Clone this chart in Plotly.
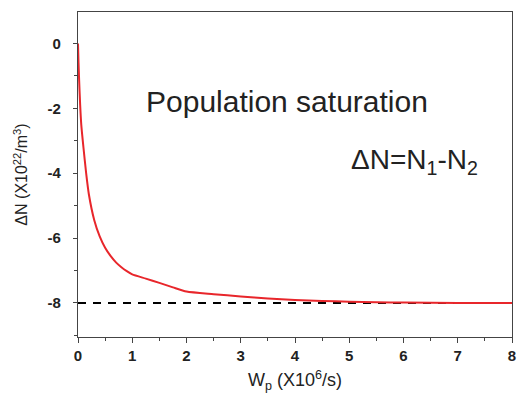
import plotly.graph_objects as go

# Data
wp = [0, 0.01, 0.02, 0.04, 0.06, 0.1, 0.15, 0.2, 0.3, 0.4, 0.5, 0.6, 0.7, 0.8, 0.9, 1.0,
      1.25, 1.5, 1.75, 2.0, 2.5, 3.0, 3.5, 4.0, 4.5, 5.0, 5.5, 6.0, 7.0, 8.0]
dn = [0, -0.6, -1.1, -1.9, -2.5, -3.2, -4.0, -4.65, -5.45, -5.95, -6.3, -6.55, -6.75, -6.9,
      -7.02, -7.12, -7.25, -7.38, -7.52, -7.65, -7.73, -7.8, -7.86, -7.91, -7.94, -7.96,
      -7.98, -7.99, -8.0, -8.0]
sat_x = [0, 8]
sat_y = [-8, -8]
xticks = [0, 1, 2, 3, 4, 5, 6, 7, 8]
yticks = [0, -2, -4, -6, -8]

FONT = "Liberation Sans, Arial"

fig = go.Figure()
fig.add_trace(go.Scatter(x=sat_x, y=sat_y, mode="lines",
                         line=dict(color="black", width=2, dash="8px,7px"),
                         showlegend=False, hoverinfo="skip"))
fig.add_trace(go.Scatter(x=wp, y=dn, mode="lines",
                         line=dict(color="#e8262b", width=2, shape="spline", smoothing=0.6),
                         showlegend=False))

tickfont = dict(family=FONT, size=15, color="#222222", weight="bold")
fig.update_xaxes(range=[0, 8], tickvals=xticks, ticktext=[f"<b>{v}</b>" for v in xticks],
                 ticks="outside", ticklen=5, tickwidth=1, tickcolor="#444",
                 minor=dict(dtick=0.5, ticks="outside", ticklen=3, tickcolor="#444"),
                 showline=True, linecolor="#444", linewidth=1.2, mirror=True,
                 showgrid=False, zeroline=False, tickfont=tickfont,
                 ticklabeloverflow="allow", automargin=False,
                 title=dict(text="W<sub>p</sub> (X10<sup>6</sup>/s)",
                            font=dict(family=FONT, size=18, color="#222")))
fig.update_yaxes(range=[-9.05, 0.97], tickvals=yticks, ticktext=[f"<b>{v}</b>" for v in yticks],
                 ticks="outside", ticklen=4, tickwidth=1, tickcolor="#444",
                 minor=dict(dtick=1, ticks="outside", ticklen=3, tickcolor="#444"),
                 showline=True, linecolor="#444", linewidth=1.2, mirror=True,
                 showgrid=False, zeroline=False, tickfont=tickfont,
                 ticklabelstandoff=9, automargin=False,
                 title=dict(text="ΔN (X10<sup>22</sup>/m<sup>3</sup>)",
                            font=dict(family=FONT, size=16, color="#222")))

fig.add_annotation(x=1.22, y=-1.8, xref="x", yref="y", text="Population saturation",
                   showarrow=False, xanchor="left", yanchor="middle",
                   font=dict(family=FONT, size=30, color="#222"))
fig.add_annotation(x=5.0, y=-3.65, xref="x", yref="y", text="ΔN=N<sub>1</sub>-N<sub>2</sub>",
                   showarrow=False, xanchor="left", yanchor="middle",
                   font=dict(family=FONT, size=28, color="#222"))

fig.update_layout(width=518, height=393, margin=dict(l=78, r=6, t=12, b=56, autoexpand=False),
                  plot_bgcolor="white", paper_bgcolor="white")
fig.write_html("out.html")
